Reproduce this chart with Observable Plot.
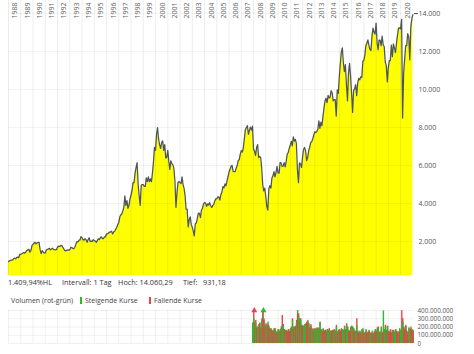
<!DOCTYPE html>
<html><head><meta charset="utf-8">
<script src="https://cdn.jsdelivr.net/npm/d3@7"></script>
<script src="https://cdn.jsdelivr.net/npm/@observablehq/plot@0.6"></script>
<style>
body{margin:0;background:#fff;font-family:"Open Sans",sans-serif;}
#wrap{position:relative;width:474px;height:354px;overflow:hidden;background:#fff;}
.t{position:absolute;font-size:7.3px;color:#333;white-space:nowrap;line-height:12px;}
.lg{position:absolute;font-size:7px;color:#444;white-space:nowrap;line-height:12px;}
.mk{display:inline-block;width:2px;height:7px;vertical-align:-1px;margin-right:3px;}
svg{position:absolute;left:0;}
</style></head><body><div id="wrap"></div>
<script>
// ---- tick labels ----
const yearLabels = ["1988","1989","1990","1991","1992","1993","1994","1995","1996","1997","1998","1999","2000","2001","2002","2003","2004","2005","2006","2007","2008","2009","2010","2011","2012","2013","2014","2015","2016","2017","2018","2019","2020"];
const priceTicks = [2000, 4000, 6000, 8000, 10000, 12000, 14000];
const volumeTicks = [0, 100e6, 200e6, 300e6, 400e6];

// ---- monthly index values (Jan..Dec) ----
const price1988_1995 = [
  940, 990, 1010, 1020, 1030, 1090, 1120, 1090, 1160, 1180, 1150, 1330,
  1330, 1350, 1390, 1420, 1390, 1460, 1530, 1560, 1590, 1440, 1530, 1790,
  1850, 1910, 1960, 1880, 1930, 1950, 1960, 1560, 1370, 1520, 1440, 1400,
  1400, 1550, 1580, 1610, 1640, 1560, 1610, 1650, 1590, 1580, 1560, 1580,
  1700, 1760, 1740, 1770, 1800, 1720, 1630, 1530, 1500, 1540, 1560, 1545,
  1560, 1700, 1680, 1640, 1620, 1700, 1850, 2000, 1980, 2070, 2080, 2260,
  2200, 2100, 2070, 2150, 2100, 1960, 2100, 2200, 2000, 2020, 2000, 2100,
  2050, 2030, 1950, 2050, 2150, 2100, 2200, 2250, 2150, 2150, 2250, 2250];
const price1996_2003 = [
  2400, 2400, 2450, 2500, 2500, 2550, 2400, 2500, 2550, 2650, 2750, 2890,
  3000, 3300, 3400, 3450, 3600, 3800, 4400, 3900, 4150, 3750, 3900, 4250,
  4450, 4700, 5100, 5100, 5600, 5900, 6150, 5000, 4400, 3900, 4950, 5000,
  5000, 4900, 4900, 5350, 5150, 5400, 5150, 5300, 5150, 5600, 6200, 6960,
  6800, 7650, 8000, 7400, 7100, 6900, 7200, 7300, 6800, 7100, 6400, 6430,
  6800, 6200, 5800, 6250, 6100, 6050, 5850, 5200, 3800, 4550, 5100, 5160,
  5100, 5050, 5400, 5000, 4800, 4400, 3700, 3700, 2770, 3150, 3300, 2890,
  2750, 2550, 2300, 2940, 2980, 3220, 3490, 3480, 3260, 3650, 3750, 3965];
const price2004_2011 = [
  4050, 4020, 3850, 3980, 3920, 4050, 3900, 3800, 3890, 3960, 4130, 4250,
  4250, 4350, 4350, 4180, 4460, 4590, 4890, 4830, 5040, 4930, 5190, 5410,
  5670, 5800, 5970, 6010, 5690, 5680, 5680, 5860, 6000, 6270, 6310, 6600,
  6790, 6710, 6920, 7400, 7880, 8000, 8100, 7640, 7860, 8020, 7870, 8070,
  6850, 6750, 6530, 6950, 7100, 6420, 6480, 6420, 5830, 4990, 4670, 4810,
  4340, 3840, 3650, 4770, 4940, 4810, 5330, 5460, 5680, 5410, 5630, 5960,
  5610, 5600, 6150, 6140, 5960, 5970, 6150, 5930, 6230, 6600, 6690, 6910,
  7080, 7270, 7040, 7510, 7290, 7380, 7160, 5780, 5100, 6140, 6090, 5900];
const price2012_2021 = [
  6460, 6860, 6950, 6760, 6260, 6420, 6770, 6970, 7220, 7260, 7410, 7610,
  7780, 7740, 7800, 7910, 8350, 7960, 8280, 8100, 8590, 9030, 9400, 9550,
  9310, 9690, 9560, 9600, 9940, 9830, 9410, 9470, 9470, 8600, 9980, 9800,
  10690, 11400, 11970, 12200, 11410, 10940, 11310, 10260, 9400, 10850, 11380, 10740,
  9800, 8800, 9960, 10040, 10260, 9680, 10340, 10590, 10510, 10670, 10640, 11480,
  11540, 11830, 12310, 12440, 12620, 12330, 12120, 12060, 12830, 13230, 13020, 12920,
  13500, 12440, 12100, 12610, 12600, 12310, 12810, 12360, 12250, 11450, 11260, 10400,
  11170, 11520, 11530, 12340, 11730, 12400, 12190, 11940, 12430, 12870, 13240, 13250,
  13200, 13700, 8500, 10860, 11590, 12310, 12310, 12950, 12760, 11560, 13290, 13720,
  13950];

// ---- monthly volume, Dec 2007 .. Jan 2021 (millions) ----
const volUp = [
  230,
  300, 260, 250, 200, 190, 210, 250, 190, 280, 430, 300, 220,
  220, 200, 260, 210, 180, 170, 160, 150, 180, 170, 140, 150,
  160, 140, 170, 180, 220, 200, 170, 150, 160, 150, 170, 150,
  180, 190, 280, 200, 190, 210, 260, 400, 330, 300, 280, 220,
  220, 200, 220, 230, 260, 280, 220, 190, 230, 170, 160, 180,
  170, 160, 180, 170, 180, 250, 160, 150, 180, 150, 160, 150,
  160, 150, 170, 140, 150, 160, 140, 150, 150, 200, 140, 150,
  170, 150, 180, 160, 150, 200, 170, 220, 190, 160, 150, 200,
  200, 190, 180, 150, 140, 220, 150, 130, 150, 130, 160, 180,
  130, 120, 170, 130, 140, 160, 120, 110, 150, 120, 130, 170,
  150, 170, 180, 140, 130, 180, 130, 395, 160, 200, 160, 200,
  150, 140, 170, 130, 150, 160, 130, 160, 150, 140, 130, 180,
  150, 180, 260, 200, 170, 220, 150, 130, 180, 160, 200, 170,
  160];
const volDown = [
  250,
  430, 240, 280, 180, 200, 230, 240, 180, 300, 380, 280, 200,
  240, 210, 230, 190, 170, 180, 150, 140, 170, 180, 130, 120,
  170, 150, 150, 200, 340, 230, 160, 160, 150, 140, 160, 140,
  170, 200, 300, 180, 200, 200, 280, 350, 360, 260, 300, 210,
  200, 210, 230, 240, 250, 260, 240, 180, 210, 180, 170, 150,
  180, 170, 190, 180, 190, 260, 170, 140, 170, 140, 160, 130,
  170, 160, 180, 150, 140, 150, 160, 170, 140, 220, 130, 160,
  160, 140, 170, 170, 160, 210, 160, 240, 200, 150, 140, 190,
  210, 200, 170, 140, 150, 300, 140, 120, 140, 120, 170, 150,
  120, 130, 150, 120, 130, 150, 130, 120, 130, 110, 140, 150,
  140, 190, 200, 130, 140, 200, 120, 150, 170, 220, 150, 210,
  140, 130, 160, 120, 160, 150, 140, 170, 140, 130, 140, 150,
  160, 398, 300, 190, 160, 210, 140, 120, 190, 170, 180, 160,
  150];

// ---- build tables ----
const GREEN = "#2eb82e", RED = "#e8424a";
const allPrices = [...price1988_1995, ...price1996_2003, ...price2004_2011, ...price2012_2021];
const priceData = allPrices.map((v, i) => ({date: new Date(Date.UTC(1988, i, 1)), v}));
const volData = [];
volUp.forEach((v, i) => {
  const x1 = new Date(Date.UTC(2007, 11 + i, 1)), x2 = new Date(Date.UTC(2007, 12 + i, 12));
  const up = {x1, x2, v: v * 1e6, c: GREEN};
  const dn = {x1, x2, v: volDown[i] * 1e6, c: RED};
  // taller bar first so both colours stay visible
  if (up.v >= dn.v) volData.push(up, dn); else volData.push(dn, up);
});
const yearDates = yearLabels.map(y => new Date(Date.UTC(+y, 0, 1)));
const xDomain = [new Date(Date.UTC(1988, 0, 1)), new Date(Date.UTC(2021, 0, 20))];
const dotFmt = d => d3.format(",")(d).replace(/,/g, ".");

const wrap = document.getElementById("wrap");

const p1 = Plot.plot({
  width: 474, height: 277,
  marginLeft: 8, marginRight: 61, marginTop: 0, marginBottom: 2,
  style: {fontFamily: "Open Sans", color: "#555", background: "transparent", overflow: "visible"},
  x: {type: "utc", domain: xDomain, axis: null},
  y: {domain: [212, 14690], axis: null},
  marks: [
    Plot.areaY(priceData, {x: "date", y: "v", fill: "#ffff00", clip: true}),
    Plot.ruleX(yearDates, {stroke: "#000", strokeOpacity: 0.07}),
    Plot.ruleY(priceTicks, {stroke: "#000", strokeOpacity: 0.05}),
    Plot.lineY(priceData, {x: "date", y: "v", stroke: "#4c5464", strokeWidth: 1.25}),
    Plot.text(yearLabels, {x: (d, i) => yearDates[i], text: d => d, frameAnchor: "top", dy: 18, dx: 4, rotate: -90, textAnchor: "start", fontSize: 7, fill: "#666"}),
    Plot.axisY({anchor: "right", ticks: [14000], tickSize: 4, tickFormat: () => "", label: null, stroke: "#444"}),
    Plot.axisY({anchor: "right", ticks: priceTicks, tickSize: 0, tickPadding: 5, tickFormat: dotFmt, label: null, fontSize: 7, fill: "#555"})
  ]
});
p1.style.top = "0px";
wrap.appendChild(p1);

function addText(cls, left, top, html) {
  const d = document.createElement("div");
  d.className = cls; d.style.left = left + "px"; d.style.top = top + "px"; d.innerHTML = html;
  wrap.appendChild(d);
}
addText("t", 8, 276, "1.409,94%HL");
addText("t", 62, 276, "Intervall: 1 Tag");
addText("t", 118, 276, "Hoch: 14.060,29");
addText("t", 183, 276, "Tief: &nbsp;&nbsp;931,18");
addText("lg", 11, 295, "Volumen (rot-grün)");
addText("lg", 80, 295, '<span class="mk" style="background:' + GREEN + '"></span>Steigende Kurse');
addText("lg", 149, 295, '<span class="mk" style="background:' + RED + '"></span>Fallende Kurse');

const clipped = volData.filter(d => d.v > 400e6);
const p2 = Plot.plot({
  width: 474, height: 50,
  marginLeft: 8, marginRight: 61, marginTop: 6, marginBottom: 11,
  style: {fontFamily: "Open Sans", color: "#555", background: "transparent", overflow: "visible"},
  x: {type: "utc", domain: xDomain, axis: null},
  y: {domain: [0, 400e6], axis: null},
  marks: [
    Plot.ruleX(yearDates, {stroke: "#000", strokeOpacity: 0.06}),
    Plot.ruleY(volumeTicks, {stroke: "#000", strokeOpacity: 0.06}),
    Plot.rect(volData, {x1: "x1", x2: "x2", y1: 0, y2: d => Math.min(d.v, 400e6), fill: "c"}),
    Plot.dot(clipped, {x: d => new Date((+d.x1 + +d.x2) / 2), y: 400e6, symbol: "triangle", r: 2.2, fill: "c"}),
    Plot.axisY({anchor: "right", ticks: volumeTicks, tickSize: 0, tickPadding: 4, tickFormat: dotFmt, label: null, fontSize: 6.3, fill: "#555"})
  ]
});
p2.style.top = "304px";
wrap.appendChild(p2);
</script></body></html>
